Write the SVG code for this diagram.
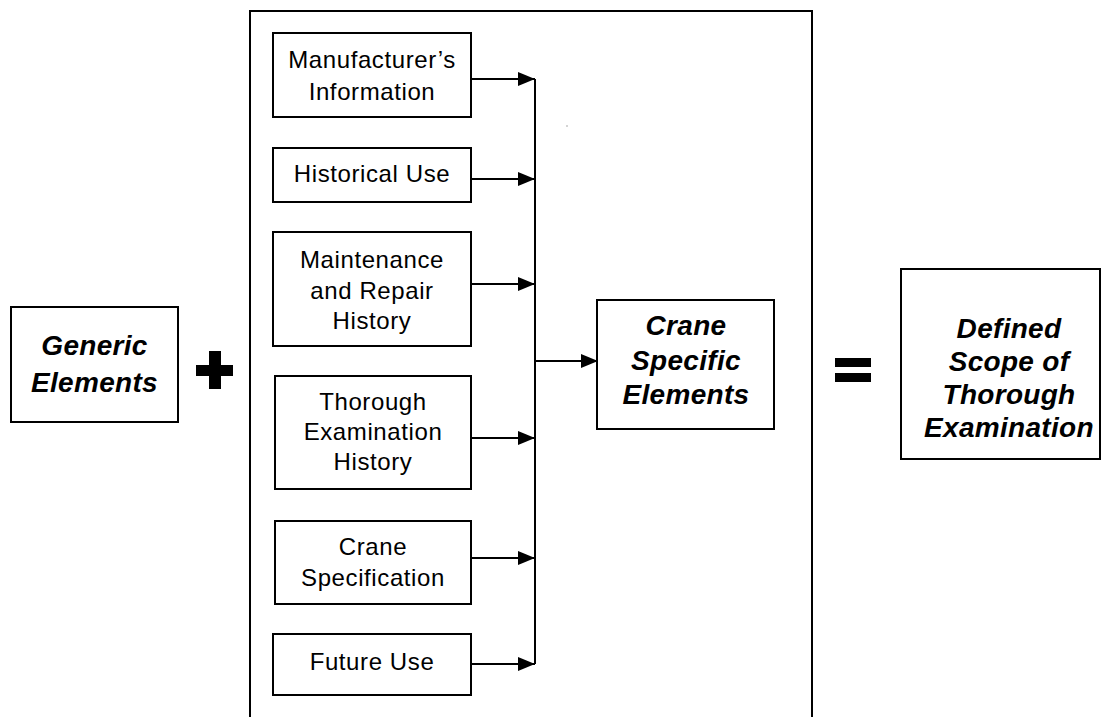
<svg xmlns="http://www.w3.org/2000/svg" width="1102" height="717" viewBox="0 0 1102 717">
<style>
.box{fill:#fff;stroke:#000;stroke-width:2}
.t{font-family:"Liberation Sans",Arial,sans-serif;font-size:24px;letter-spacing:0.6px;text-anchor:middle;fill:#000}
.b{font-family:"Liberation Sans",Arial,sans-serif;font-size:28px;letter-spacing:0.3px;font-weight:bold;font-style:italic;text-anchor:middle;fill:#000}
.c{stroke:#000;stroke-width:2;fill:none}
</style>
<defs>
<marker id="ah" viewBox="0 0 17 14" refX="17" refY="7" markerWidth="17" markerHeight="14" markerUnits="userSpaceOnUse" orient="auto">
<path d="M0,0 L17,7 L0,14 Z" fill="#000"/>
</marker>
</defs>
<rect x="0" y="0" width="1102" height="717" fill="#fff"/>
<g id="container"><path class="c" d="M250,730 V11 H812 V730"/></g>
<g id="generic"><rect class="box" x="11" y="307" width="167" height="115"/><text class="b" x="94.5" y="355">Generic</text><text class="b" x="94.5" y="392">Elements</text></g>
<g id="plus"><rect x="209" y="351" width="12" height="38" fill="#000"/><rect x="196" y="365" width="37" height="11" fill="#000"/></g>
<g id="manufacturer"><rect class="box" x="273" y="33" width="198" height="84"/><text class="t" x="372" y="68">Manufacturer’s</text><text class="t" x="372" y="100">Information</text></g>
<g id="historical"><rect class="box" x="273" y="148" width="198" height="54"/><text class="t" x="372" y="182">Historical Use</text></g>
<g id="maintenance"><rect class="box" x="273" y="232" width="198" height="114"/><text class="t" x="372" y="268">Maintenance</text><text class="t" x="372" y="299">and Repair</text><text class="t" x="372" y="329">History</text></g>
<g id="thorough"><rect class="box" x="275" y="376" width="196" height="113"/><text class="t" x="373" y="410">Thorough</text><text class="t" x="373" y="440">Examination</text><text class="t" x="373" y="470">History</text></g>
<g id="specification"><rect class="box" x="275" y="521" width="196" height="83"/><text class="t" x="373" y="555">Crane</text><text class="t" x="373" y="586">Specification</text></g>
<g id="future"><rect class="box" x="273" y="634" width="198" height="61"/><text class="t" x="372" y="670">Future Use</text></g>
<g id="crane-specific"><rect class="box" x="597" y="300" width="177" height="129"/><text class="b" x="686" y="335">Crane</text><text class="b" x="686" y="370">Specific</text><text class="b" x="686" y="404">Elements</text></g>
<g id="equals"><rect x="835" y="358" width="36" height="9" fill="#000"/><rect x="835" y="373" width="36" height="9" fill="#000"/></g>
<g id="defined"><rect class="box" x="901" y="269" width="199" height="190"/><text class="b" x="1009" y="338">Defined</text><text class="b" x="1009" y="371">Scope of</text><text class="b" x="1009" y="404">Thorough</text><text class="b" x="1009" y="437">Examination</text></g>
<g id="connectors">
<path class="c" d="M535,79 V664"/>
<line class="c" x1="471" y1="79" x2="535" y2="79" marker-end="url(#ah)"/>
<line class="c" x1="471" y1="179" x2="535" y2="179" marker-end="url(#ah)"/>
<line class="c" x1="471" y1="284" x2="535" y2="284" marker-end="url(#ah)"/>
<line class="c" x1="471" y1="438" x2="535" y2="438" marker-end="url(#ah)"/>
<line class="c" x1="471" y1="558" x2="535" y2="558" marker-end="url(#ah)"/>
<line class="c" x1="471" y1="664" x2="535" y2="664" marker-end="url(#ah)"/>
<line class="c" x1="535" y1="361" x2="598" y2="361" marker-end="url(#ah)"/>
</g>
<circle cx="567" cy="126" r="0.7" fill="#888"/>
</svg>
